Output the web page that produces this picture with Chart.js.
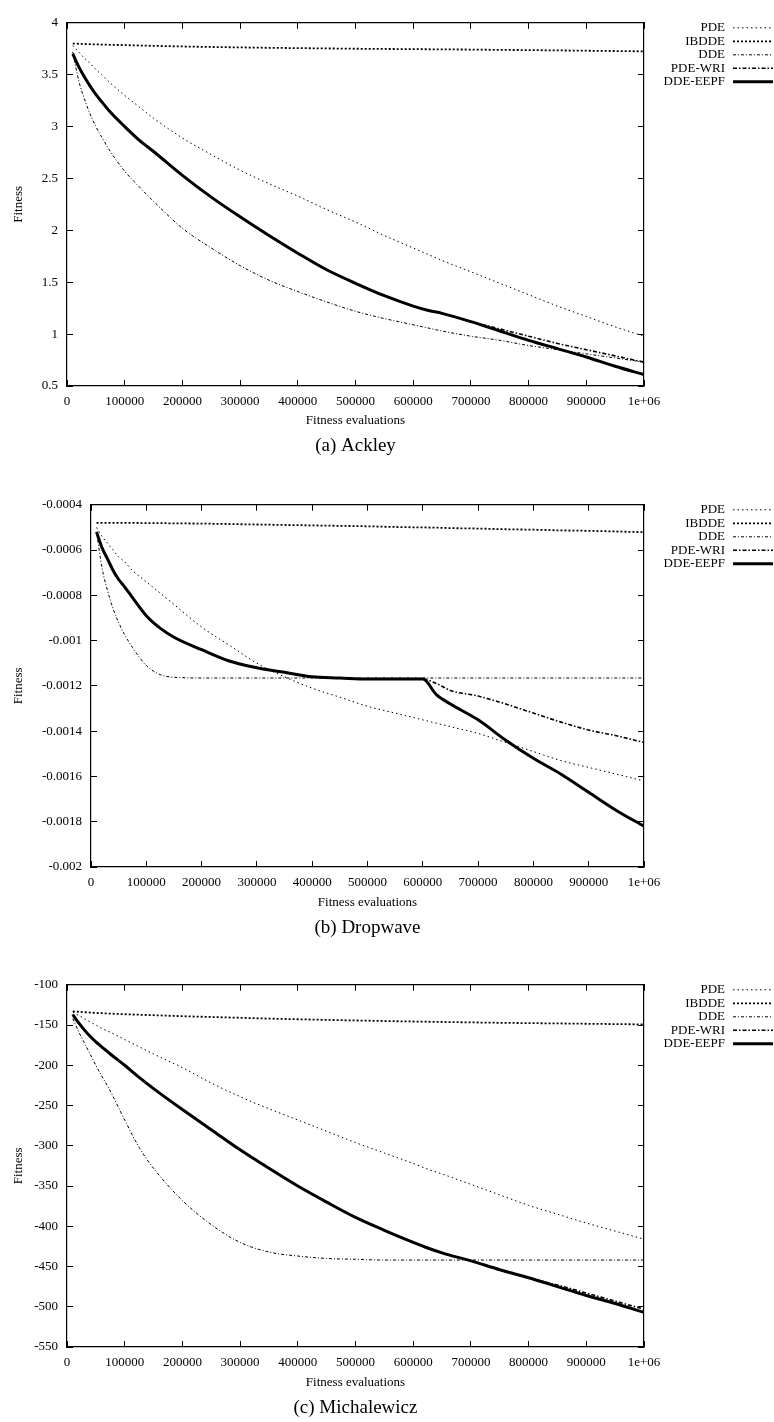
<!DOCTYPE html>
<html>
<head>
<meta charset="utf-8">
<script src="https://cdn.jsdelivr.net/npm/chart.js@4.4.0/dist/chart.umd.min.js"></script>
<style>
  body { margin: 0; background: #fff; width: 774px; height: 1422px; position: relative; overflow: hidden; }
  .panel { position: absolute; left: 0; width: 774px; height: 460px; }
</style>
</head>
<body>
<div class="panel" style="top:0px"><canvas id="ackley" width="774" height="460"></canvas></div>
<div class="panel" style="top:482px"><canvas id="dropwave" width="774" height="460"></canvas></div>
<div class="panel" style="top:962px"><canvas id="michalewicz" width="774" height="460"></canvas></div>
<script>
// imena algoritmov (legenda)
var seriesNames = ["PDE", "IBDDE", "DDE", "PDE-WRI", "DDE-EEPF"];

// stevilo ovrednotenj, kjer so odcitane tocke
var evaluations = [10000, 20000, 30000, 40000, 50000, 60000, 75000, 100000, 125000, 150000,
  200000, 250000, 300000, 350000, 400000, 450000, 500000, 550000, 600000, 625000,
  650000, 700000, 750000, 800000, 850000, 900000, 950000, 1000000];

// oznake na x osi
var evalTicks = [0, 100000, 200000, 300000, 400000, 500000, 600000, 700000, 800000, 900000, 1000000];
var evalTickLabels = ["0", "100000", "200000", "300000", "400000", "500000", "600000", "700000", "800000", "900000", "1e+06"];

// (a) Ackley
var ackleyPDE = [3.78, 3.72, 3.66, 3.61, 3.55, 3.50, 3.42, 3.30, 3.19, 3.08, 2.89, 2.73, 2.58, 2.45,
  2.33, 2.20, 2.08, 1.95, 1.83, 1.77, 1.71, 1.60, 1.49, 1.38, 1.27, 1.17, 1.07, 0.98];
var ackleyIBDDE = [3.80, 3.798, 3.796, 3.794, 3.792, 3.79, 3.788, 3.785, 3.781, 3.778, 3.772, 3.767, 3.763, 3.759,
  3.756, 3.753, 3.75, 3.748, 3.746, 3.745, 3.744, 3.742, 3.739, 3.737, 3.734, 3.731, 3.728, 3.725];
var ackleyDDE = [3.72, 3.45, 3.27, 3.12, 3.00, 2.90, 2.76, 2.57, 2.42, 2.28, 2.02, 1.83, 1.66, 1.52,
  1.41, 1.31, 1.22, 1.15, 1.09, 1.06, 1.03, 0.98, 0.94, 0.89, 0.85, 0.81, 0.77, 0.73];
var ackleyPDEWRI = [3.70, 3.58, 3.48, 3.39, 3.31, 3.24, 3.14, 3.00, 2.87, 2.76, 2.53, 2.32, 2.13, 1.95,
  1.78, 1.62, 1.49, 1.37, 1.27, 1.23, 1.20, 1.12, 1.05, 0.98, 0.91, 0.85, 0.79, 0.73];
var ackleyDDEEEPF = [3.70, 3.58, 3.48, 3.39, 3.31, 3.24, 3.14, 3.00, 2.87, 2.76, 2.53, 2.32, 2.13, 1.95,
  1.78, 1.62, 1.49, 1.37, 1.27, 1.23, 1.20, 1.12, 1.03, 0.94, 0.86, 0.78, 0.69, 0.61];
var ackleyTicks = [0.5, 1, 1.5, 2, 2.5, 3, 3.5, 4];
var ackleyTickLabels = ["0.5", "1", "1.5", "2", "2.5", "3", "3.5", "4"];

// (b) Dropwave
var dropwavePDE = [-0.00050, -0.00054, -0.00057, -0.00060, -0.00063, -0.00065, -0.00069, -0.00074, -0.00079, -0.00084,
  -0.00094, -0.00102, -0.00110, -0.00116, -0.00121, -0.00125, -0.00129, -0.00132, -0.00135, -0.001365,
  -0.00138, -0.00141, -0.00145, -0.00149, -0.00153, -0.00156, -0.00159, -0.00162];
var dropwaveIBDDE = [-0.000480, -0.000480, -0.000480, -0.000480, -0.000480, -0.000480, -0.000480, -0.000481, -0.000481, -0.000482,
  -0.000483, -0.000485, -0.000487, -0.000489, -0.000491, -0.000493, -0.000495, -0.000498, -0.000500, -0.000501,
  -0.000503, -0.000505, -0.000508, -0.000510, -0.000513, -0.000515, -0.000518, -0.000521];
var dropwaveDDE = [-0.00052, -0.00068, -0.00078, -0.00086, -0.00092, -0.00097, -0.00103, -0.00111, -0.00115, -0.001162,
  -0.001165, -0.001165, -0.001165, -0.001165, -0.001165, -0.001165, -0.001165, -0.001165, -0.001165, -0.001165,
  -0.001165, -0.001165, -0.001165, -0.001165, -0.001165, -0.001165, -0.001165, -0.001165];
var dropwavePDEWRI = [-0.00052, -0.00059, -0.00064, -0.00069, -0.00073, -0.00076, -0.00081, -0.00089, -0.000945, -0.000985,
  -0.00104, -0.00109, -0.00112, -0.00114, -0.00116, -0.001165, -0.00117, -0.00117, -0.00117, -0.00119,
  -0.00122, -0.001245, -0.00128, -0.00132, -0.00136, -0.001395, -0.00142, -0.00145];
var dropwaveDDEEEPF = [-0.00052, -0.00059, -0.00064, -0.00069, -0.00073, -0.00076, -0.00081, -0.00089, -0.000945, -0.000985,
  -0.00104, -0.00109, -0.00112, -0.00114, -0.00116, -0.001165, -0.00117, -0.00117, -0.00117, -0.00124,
  -0.00128, -0.00135, -0.00144, -0.00152, -0.00159, -0.00167, -0.00175, -0.00182];
var dropwaveTicks = [-0.002, -0.0018, -0.0016, -0.0014, -0.0012, -0.001, -0.0008, -0.0006, -0.0004];
var dropwaveTickLabels = ["-0.002", "-0.0018", "-0.0016", "-0.0014", "-0.0012", "-0.001", "-0.0008", "-0.0006", "-0.0004"];

// (c) Michalewicz
var michalewiczPDE = [-134, -138, -142, -146, -150, -154, -159, -168, -177, -186, -203, -222, -239, -254,
  -268, -282, -296, -309, -322, -329, -335, -348, -361, -374, -385, -396, -406, -416];
var michalewiczIBDDE = [-133, -133.5, -134, -134.5, -135, -135.3, -135.8, -136.5, -137.2, -137.8, -139, -140, -141, -142,
  -142.8, -143.6, -144.3, -145, -145.6, -145.9, -146.2, -146.7, -147.2, -147.6, -148, -148.4, -148.8, -149.2];
var michalewiczDDE = [-142, -158, -172, -186, -200, -213, -232, -268, -302, -328, -368, -398, -420, -432,
  -437, -440, -441, -442, -442, -442, -442, -442, -442, -442, -442, -442, -442, -442];
var michalewiczPDEWRI = [-137, -147, -156, -164, -171, -177, -186, -200, -215, -229, -255, -280, -305, -328,
  -350, -370, -389, -405, -420, -427, -433, -443, -454, -464, -473, -483, -493, -503];
var michalewiczDDEEEPF = [-137, -147, -156, -164, -171, -177, -186, -200, -215, -229, -255, -280, -305, -328,
  -350, -370, -389, -405, -420, -427, -433, -443, -454, -464, -475, -486, -496, -507];
var michalewiczTicks = [-550, -500, -450, -400, -350, -300, -250, -200, -150, -100];
var michalewiczTickLabels = ["-550", "-500", "-450", "-400", "-350", "-300", "-250", "-200", "-150", "-100"];

// stili crt (gnuplot)
var lineDashes = [[1.5, 3], [2, 2], [3, 2, 1, 2], [4, 2, 1.5, 2], []];
var lineWidths = [1, 1.8, 1, 1.6, 3];

var fontFamily = "'Liberation Serif', 'Times New Roman', serif";
var tickFont = { family: fontFamily, size: 13 };

// legenda desno zgoraj: besedilo levo, vzorec crte desno
var rightLegend = {
  id: "rightLegend",
  afterDraw: function(chart) {
    var ctx = chart.ctx;
    var area = chart.chartArea;
    ctx.save();
    ctx.font = "13px " + fontFamily;
    ctx.textAlign = "right";
    ctx.textBaseline = "middle";
    ctx.fillStyle = "#000";
    chart.data.datasets.forEach(function(ds, i) {
      var y = area.top + 5 + i * 13.5;
      ctx.fillText(ds.label, area.right + 81, y);
      ctx.beginPath();
      ctx.setLineDash(ds.borderDash);
      ctx.lineWidth = ds.borderWidth;
      ctx.strokeStyle = ds.borderColor;
      ctx.moveTo(area.right + 89, y);
      ctx.lineTo(area.right + 129, y);
      ctx.stroke();
    });
    ctx.restore();
  }
};

function makeDatasets(seriesList) {
  return seriesList.map(function(values, i) {
    return {
      label: seriesNames[i],
      data: values.map(function(v, j) { return { x: evaluations[j], y: v }; }),
      borderColor: "#000",
      borderWidth: lineWidths[i],
      borderDash: lineDashes[i],
      pointRadius: 0,
      fill: false,
      cubicInterpolationMode: "monotone",
      order: seriesList.length - 1 - i
    };
  });
}

function setTicks(list) {
  return function(scale) {
    scale.ticks = list.map(function(v) { return { value: v }; });
  };
}

function makeScales(yTicks, yTickLabels, yWidth, xHeight) {
  var marks = { color: "#000", lineWidth: 1, drawOnChartArea: false, drawTicks: true, tickLength: -6 };
  var frame = { display: true, color: "#000", width: 1.2 };
  var yMin = yTicks[0];
  var yMax = yTicks[yTicks.length - 1];
  return {
    x: {
      type: "linear", position: "bottom", min: 0, max: 1000000,
      afterBuildTicks: setTicks(evalTicks),
      afterFit: function(scale) { scale.height = xHeight; },
      grid: marks, border: frame,
      ticks: {
        color: "#000", font: tickFont, padding: 13.5, maxRotation: 0, autoSkip: false,
        callback: function(value, index) { return evalTickLabels[index]; }
      },
      title: { display: true, text: "Fitness evaluations", color: "#000", font: tickFont, padding: { top: 0, bottom: 3.2 } }
    },
    xTop: {
      type: "linear", position: "top", min: 0, max: 1000000,
      afterBuildTicks: setTicks(evalTicks),
      afterFit: function(scale) { scale.height = 0; },
      grid: marks, border: frame,
      ticks: { display: false }
    },
    y: {
      type: "linear", position: "left", min: yMin, max: yMax,
      afterBuildTicks: setTicks(yTicks),
      afterFit: function(scale) { scale.width = yWidth; },
      grid: marks, border: frame,
      ticks: {
        color: "#000", font: tickFont, padding: 15,
        callback: function(value, index) { return yTickLabels[index]; }
      },
      title: { display: true, text: "Fitness", color: "#000", font: tickFont, padding: { top: 10.5, bottom: 0 } }
    },
    yRight: {
      type: "linear", position: "right", min: yMin, max: yMax,
      afterBuildTicks: setTicks(yTicks),
      afterFit: function(scale) { scale.width = 0; },
      grid: marks, border: frame,
      ticks: { display: false }
    }
  };
}

function drawPanel(canvasId, caption, seriesList, yTicks, yTickLabels, yWidth, xHeight) {
  return new Chart(document.getElementById(canvasId), {
    type: "line",
    data: { datasets: makeDatasets(seriesList) },
    options: {
      responsive: false,
      animation: false,
      devicePixelRatio: 1,
      layout: { padding: { top: 10, right: 130, left: 0, bottom: 0 } },
      scales: makeScales(yTicks, yTickLabels, yWidth, xHeight),
      plugins: {
        legend: { display: false },
        tooltip: { enabled: false },
        title: {
          display: true, position: "bottom", fullSize: false, text: caption, color: "#000",
          font: { family: fontFamily, size: 19, weight: "normal" },
          padding: { top: 3, bottom: 2.2 }
        }
      }
    },
    plugins: [rightLegend]
  });
}

drawPanel("ackley", "(a) Ackley",
  [ackleyPDE, ackleyIBDDE, ackleyDDE, ackleyPDEWRI, ackleyDDEEEPF],
  ackleyTicks, ackleyTickLabels, 67, 46);
drawPanel("dropwave", "(b) Dropwave",
  [dropwavePDE, dropwaveIBDDE, dropwaveDDE, dropwavePDEWRI, dropwaveDDEEEPF],
  dropwaveTicks, dropwaveTickLabels, 91, 47);
drawPanel("michalewicz", "(c) Michalewicz",
  [michalewiczPDE, michalewiczIBDDE, michalewiczDDE, michalewiczPDEWRI, michalewiczDDEEEPF],
  michalewiczTicks, michalewiczTickLabels, 67, 47);
</script>
</body>
</html>
